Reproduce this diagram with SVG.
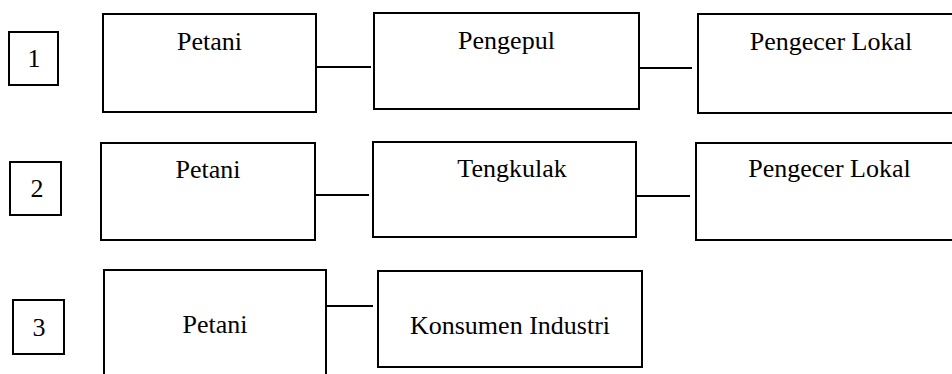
<svg xmlns="http://www.w3.org/2000/svg" width="952" height="374" viewBox="0 0 952 374">
<style>
rect.n{fill:#fff;stroke:#000;stroke-width:2}
text{font-family:'Liberation Serif','DejaVu Serif',serif;font-size:26px;fill:#000;text-anchor:middle}
.c line{stroke:#000;stroke-width:2}
</style>
<rect width="952" height="374" fill="#fff"/>
<g class="c" id="connectors">
<line x1="316" y1="67" x2="371" y2="67"/>
<line x1="639" y1="68" x2="692" y2="68"/>
<line x1="315" y1="195" x2="369" y2="195"/>
<line x1="636" y1="196" x2="690" y2="196"/>
<line x1="326" y1="306" x2="373" y2="306"/>
</g>
<g font-family="Liberation Serif, DejaVu Serif, serif">
<g id="num1"><rect class="n" x="9" y="32" width="49" height="53"/><text x="34" y="67">1</text></g>
<g id="r1-petani"><rect class="n" x="103" y="14" width="213" height="98"/><text x="209.5" y="50">Petani</text></g>
<g id="r1-pengepul"><rect class="n" x="374" y="13" width="265" height="96"/><text x="506.5" y="49">Pengepul</text></g>
<g id="r1-pengecer"><rect class="n" x="698" y="14" width="270" height="99"/><text x="831" y="50">Pengecer Lokal</text></g>
<g id="num2"><rect class="n" x="10" y="162" width="51" height="53"/><text x="37" y="197">2</text></g>
<g id="r2-petani"><rect class="n" x="101" y="143" width="214" height="97"/><text x="208" y="178">Petani</text></g>
<g id="r2-tengkulak"><rect class="n" x="373" y="142" width="263" height="95"/><text x="512" y="177">Tengkulak</text></g>
<g id="r2-pengecer"><rect class="n" x="696" y="143" width="270" height="97"/><text x="829.5" y="177">Pengecer Lokal</text></g>
<g id="num3"><rect class="n" x="13" y="300" width="51" height="54"/><text x="39" y="336">3</text></g>
<g id="r3-petani"><rect class="n" x="104" y="270" width="222" height="120"/><text x="215" y="333">Petani</text></g>
<g id="r3-konsumen"><rect class="n" x="378" y="271" width="264" height="96"/><text x="510" y="334">Konsumen Industri</text></g>
</g>
</svg>
